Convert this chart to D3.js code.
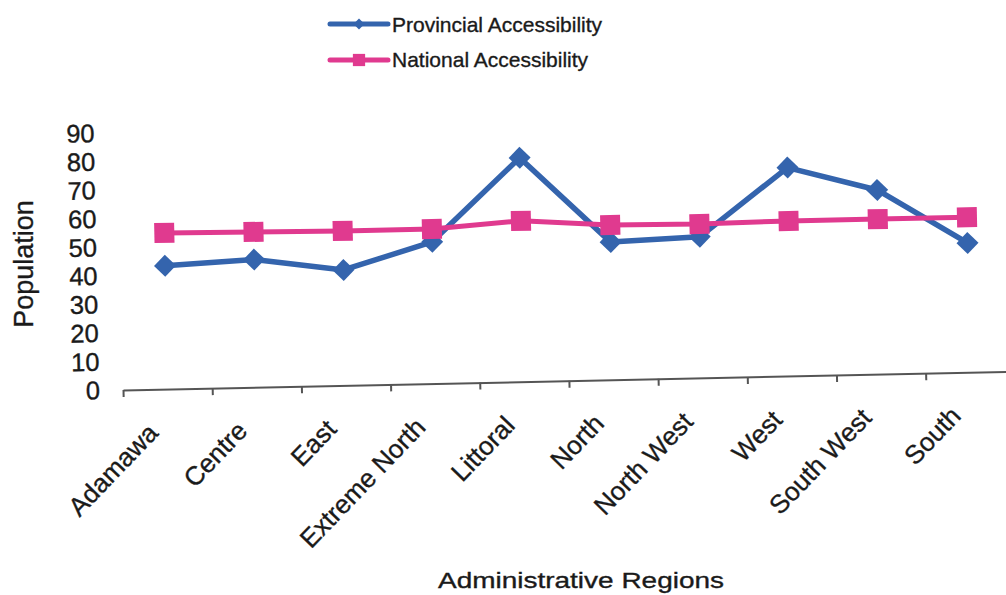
<!DOCTYPE html>
<html>
<head>
<meta charset="utf-8">
<script src="https://cdn.jsdelivr.net/npm/d3@7"></script>
<style>
  html, body { margin: 0; padding: 0; background: #fff; }
  svg { display: block; font-family: "Liberation Sans", Arial, sans-serif; }
  svg text { stroke: #1a1a1a; stroke-width: 0.35px; }
</style>
</head>
<body>
<svg id="chart" width="1006" height="595"></svg>
<script>
// Accessibility by administrative region
const regions = ["Adamawa", "Centre", "East", "Extreme North", "Littoral",
                 "North", "North West", "West", "South West", "South"];
const provincial = [43.2, 44.7, 40.4, 49.6, 78.4, 48.2, 49.4, 73.0, 64.5, 45.3];
const national   = [54.7, 54.4, 54.1, 54.1, 56.3, 54.2, 53.9, 54.3, 54.3, 54.3];
const yTicks = [0, 10, 20, 30, 40, 50, 60, 70, 80, 90];
const seriesNames = ["Provincial Accessibility", "National Accessibility"];
const seriesColors = ["#3464ad", "#e03a8f"];

const svg = d3.select("#chart");
svg.append("rect").attr("width", 1006).attr("height", 595).attr("fill", "#fff");

const left = 123, baseY = 390, step = 89.2;
const x = d3.scaleBand().domain(regions).range([left, left + step * regions.length]).padding(0);
const xEdge = d3.scaleLinear().domain([0, regions.length]).range(x.range());
const y = d3.scaleLinear().domain([0, 90]).range([baseY, baseY - 257]);
const cx = d => x(d) + x.bandwidth() / 2;

// plot area is drawn slightly tilted
const plot = svg.append("g").attr("transform", `rotate(-1.2 ${left} ${baseY})`);

// value axis: labels only
const yAxis = plot.append("g")
  .attr("transform", `translate(${left},0)`)
  .call(d3.axisLeft(y).tickValues(yTicks).tickSize(0).tickPadding(23));
yAxis.select(".domain").remove();
yAxis.selectAll("text")
  .attr("font-size", 25.5)
  .attr("font-family", "Liberation Sans, Arial, sans-serif")
  .attr("fill", "#1a1a1a");

// category axis: line with ticks between categories
const xAxis = plot.append("g")
  .attr("transform", `translate(0,${baseY})`)
  .call(d3.axisBottom(xEdge).tickValues(d3.range(0, regions.length + 1))
    .tickSize(7).tickSizeOuter(0).tickFormat(""));
xAxis.select(".domain").attr("stroke", "#555").attr("stroke-width", 2);
xAxis.selectAll(".tick line").attr("stroke", "#555").attr("stroke-width", 2);

// category labels
const xLabels = plot.append("g")
  .attr("transform", `translate(0,${baseY})`)
  .call(d3.axisBottom(x).tickSize(0));
xLabels.select(".domain").remove();
xLabels.selectAll("text")
  .attr("x", 0).attr("y", 0).attr("dy", 0)
  .attr("transform", "translate(-9,45) rotate(-45)")
  .attr("text-anchor", "end")
  .attr("font-size", 26)
  .attr("font-family", "Liberation Sans, Arial, sans-serif")
  .attr("fill", "#1a1a1a");

const line = d3.line().x((d, i) => cx(regions[i])).y(d => y(d));

// Provincial series (diamonds)
plot.append("path").datum(provincial)
  .attr("d", line).attr("fill", "none")
  .attr("stroke", seriesColors[0]).attr("stroke-width", 5.5)
  .attr("stroke-linejoin", "round");
const diamond = d3.symbol().type(d3.symbolSquare).size(242);
plot.append("g").selectAll("path").data(provincial).join("path")
  .attr("d", diamond)
  .attr("transform", (d, i) => `translate(${cx(regions[i])},${y(d)}) rotate(45)`)
  .attr("fill", seriesColors[0]);

// National series (squares)
plot.append("path").datum(national)
  .attr("d", line).attr("fill", "none")
  .attr("stroke", seriesColors[1]).attr("stroke-width", 5)
  .attr("stroke-linejoin", "round");
const square = d3.symbol().type(d3.symbolSquare).size(400);
plot.append("g").selectAll("path").data(national).join("path")
  .attr("d", square)
  .attr("transform", (d, i) => `translate(${cx(regions[i])},${y(d)})`)
  .attr("fill", seriesColors[1]);

// axis titles
svg.append("text")
  .attr("transform", "translate(33,264) rotate(-90)")
  .attr("text-anchor", "middle")
  .attr("font-size", 27)
  .attr("fill", "#1a1a1a")
  .text("Population");

svg.append("text")
  .attr("x", 438).attr("y", 588)
  .attr("font-size", 22.5)
  .attr("textLength", 286).attr("lengthAdjust", "spacingAndGlyphs")
  .attr("fill", "#1a1a1a")
  .text("Administrative Regions");

// legend
const legendRows = [
  { name: seriesNames[0], color: seriesColors[0], symbol: d3.symbol().type(d3.symbolSquare).size(60), rot: 45, y: 24, base: 32 },
  { name: seriesNames[1], color: seriesColors[1], symbol: d3.symbol().type(d3.symbolSquare).size(150), rot: 0, y: 60, base: 67 }
];
const legend = svg.append("g");
legendRows.forEach(r => {
  legend.append("line")
    .attr("x1", 330).attr("x2", 388).attr("y1", r.y).attr("y2", r.y)
    .attr("stroke", r.color).attr("stroke-width", 5).attr("stroke-linecap", "round");
  legend.append("path")
    .attr("d", r.symbol)
    .attr("transform", `translate(359,${r.y}) rotate(${r.rot})`)
    .attr("fill", r.color);
  legend.append("text")
    .attr("x", 392).attr("y", r.base)
    .attr("font-size", 21)
    .attr("fill", "#1a1a1a")
    .text(r.name);
});
</script>
</body>
</html>
